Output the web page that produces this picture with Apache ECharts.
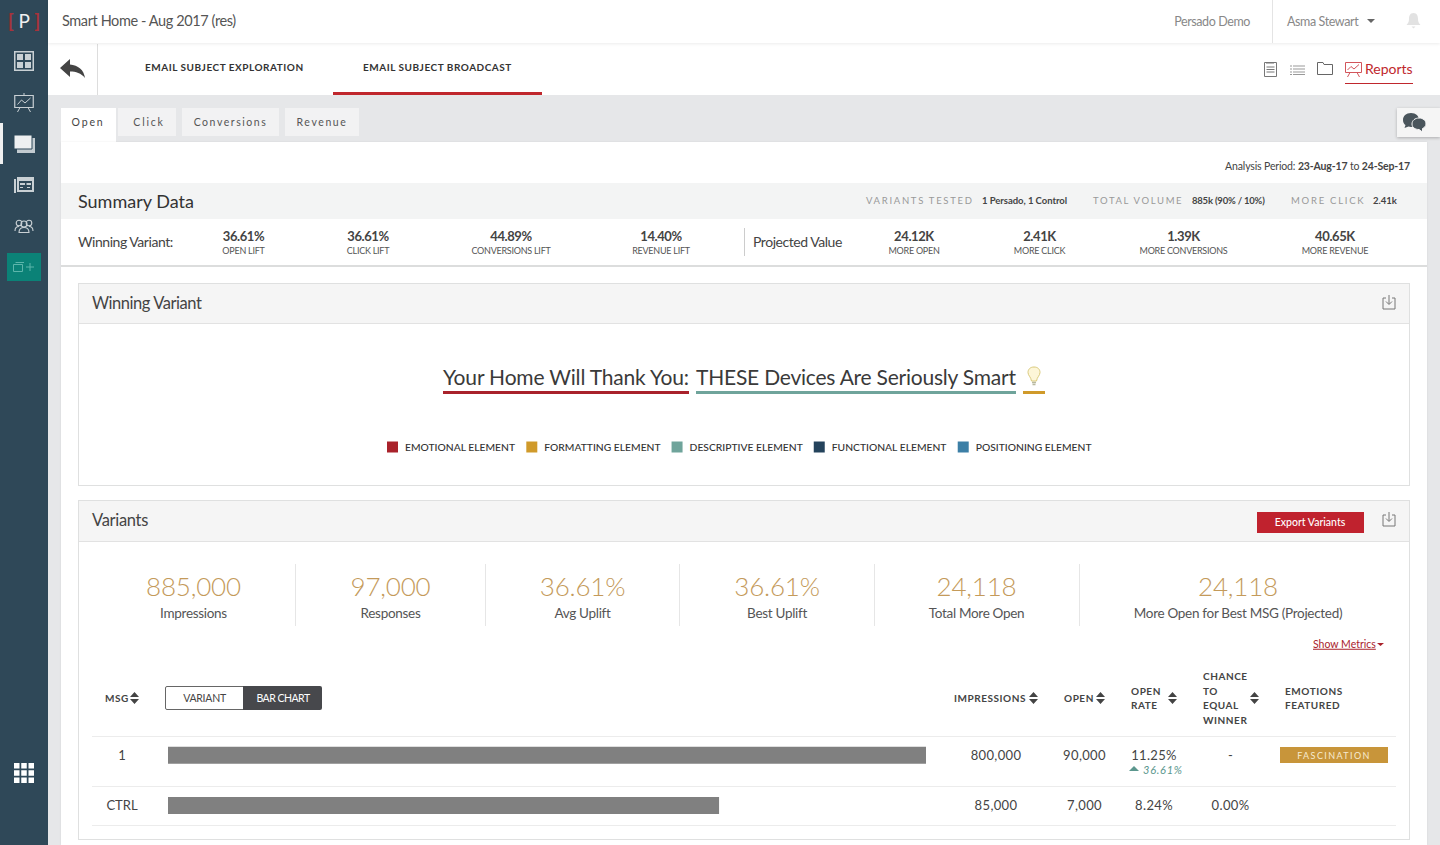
<!DOCTYPE html>
<html>
<head>
<meta charset="UTF-8">
<title>Smart Home - Aug 2017 (res)</title>
<script src="https://cdn.jsdelivr.net/npm/echarts@6/dist/echarts.min.js"></script>
<style>
html, body { margin: 0; padding: 0; width: 1440px; height: 845px; overflow: hidden; background: #e6e7e9; }
body { font-family: Lato, "Open Sans", sans-serif; color: #444; position: relative; }
#page div, #page svg { position: absolute; }
#page .t { white-space: nowrap; line-height: 1; }
#main { position: absolute; left: 0; top: 0; width: 1440px; height: 845px; pointer-events: none; }
</style>
</head>
<body>
<div id="page"></div>
<div id="main"></div>
<script>
// table rows
var categories = ['1', 'CTRL'];
var barValues = [100, 72.7]; // bar length, % of the best variant
var impressions = ['800,000', '85,000'];
var opens = ['90,000', '7,000'];
var openRates = ['11.25%', '8.24%'];
var chances = ['-', '0.00%'];

// legend under the headline
var elementNames = ['EMOTIONAL ELEMENT', 'FORMATTING ELEMENT', 'DESCRIPTIVE ELEMENT', 'FUNCTIONAL ELEMENT', 'POSITIONING ELEMENT'];
var elementColors = ['#a9222b', '#d09a2a', '#6fa49b', '#24435c', '#3c7fa6'];

// summary strip
var liftValues = ['36.61%', '36.61%', '44.89%', '14.40%'];
var liftLabels = ['OPEN LIFT', 'CLICK LIFT', 'CONVERSIONS LIFT', 'REVENUE LIFT'];
var moreValues = ['24.12K', '2.41K', '1.39K', '40.65K'];
var moreLabels = ['MORE OPEN', 'MORE CLICK', 'MORE CONVERSIONS', 'MORE REVENUE'];

// big numbers in the variants panel
var kpiValues = ['885,000', '97,000', '36.61%', '36.61%', '24,118', '24,118'];
var kpiLabels = ['Impressions', 'Responses', 'Avg Uplift', 'Best Uplift', 'Total More Open', 'More Open for Best MSG (Projected)'];

var page = document.getElementById('page');

function box(x, y, w, h, color, css) {
    var d = document.createElement('div');
    d.style.cssText = 'left:' + x + 'px;top:' + y + 'px;width:' + w + 'px;height:' + h + 'px;background:' + color + ';' + (css || '');
    page.appendChild(d);
    return d;
}

// y is the vertical middle of the text
function txt(x, y, s, o) {
    o = o || {};
    var d = document.createElement('div');
    d.className = 't';
    var tx = o.align === 'c' ? '-50%' : o.align === 'r' ? '-100%' : '0';
    d.style.cssText = 'left:' + x + 'px;top:' + y + 'px;transform:translate(' + tx + ',-50%);' +
        'font-size:' + (o.size || 13) + 'px;color:' + (o.color || '#444') + ';font-weight:' + (o.weight || 400) + ';' +
        'letter-spacing:' + (o.ls || 0) + 'px;' + (o.css || '');
    d.innerHTML = s;
    page.appendChild(d);
    return d;
}

function icon(x, y, w, h, inner) {
    page.insertAdjacentHTML('beforeend', '<svg style="left:' + x + 'px;top:' + y + 'px" width="' + w + '" height="' + h + '" viewBox="0 0 ' + w + ' ' + h + '">' + inner + '</svg>');
}

function sortIcon(x, y) {
    icon(x, y - 6, 9, 12, '<path d="M4.5 0L9 5H0zM4.5 12L0 7H9z" fill="#444"/>');
}

function dlIcon(x, y) {
    icon(x, y, 14, 15, '<path d="M4 3H1V14H13V3H10M7 0V9M4 6.5L7 9.5L10 6.5" fill="none" stroke="#777" stroke-width="1"/>');
}

// sidebar
box(0, 0, 48, 845, '#2f4858');
box(0, 123, 3, 41, '#f0f0f0');
txt(24, 20, '<span style="color:#a8323a;font-weight:700">[</span> P <span style="color:#a8323a;font-weight:700">]</span>', { size: 19, color: '#f0f0f0', align: 'c' });
icon(14, 51, 20, 20, '<path d="M.75.75H19.25V19.25H.75z" fill="none" stroke="#c9d0d4" stroke-width="1.5"/><path d="M3 3H9V9H3zM11 3H17V9H11zM3 11H9V17H3zM11 11H17V17H11z" fill="#c9d0d4"/>');
icon(14, 93, 20, 19, '<path d="M10 0V2.5" stroke="#c9d0d4"/><path d="M.75 2.5H19.25V14.5H.75z" fill="none" stroke="#c9d0d4" stroke-width="1.2"/><path d="M3.5 11.5L7.5 7L11 10L16.5 5M6 14.5L3.5 19M14 14.5L16.5 19" fill="none" stroke="#c9d0d4" stroke-width="1"/>');
icon(13, 134, 22, 19, '<path d="M4 4H22V19H4z" fill="#c3cbd0"/><path d="M1 1H19V15H1z" fill="#eef0f1" stroke="#2f4858" stroke-width="1"/>');
icon(14, 177, 20, 16, '<path d="M0 2H2V16H0zM3 0H20V15H3z" fill="#c9d0d4"/><path d="M5 4H18V13H5z" fill="#2f4858"/><path d="M6 6H11V8H6zM12.5 6H17V8H12.5zM6 10H9V11H6zM13 10H16V11H13z" fill="#c9d0d4"/>');
icon(14, 219, 20, 14, '<g fill="none" stroke="#c9d0d4" stroke-width="1.1"><circle cx="5" cy="4" r="2.8"/><circle cx="15" cy="4" r="2.8"/><circle cx="10" cy="5" r="3"/><path d="M1 12C1 8 3 7.5 5 7.5M19 12C19 8 17 7.5 15 7.5M5 13.5C5 10 7 8.5 10 8.5C13 8.5 15 10 15 13.5z"/></g>');
box(7, 253, 34, 28, '#0b8277');
icon(13, 262, 23, 10, '<path d="M.5 2.5H9.5V9.5H.5zM2.5 .5H11" fill="none" stroke="#5db5ab"/><path d="M17 1V9M13 5H21" stroke="#5db5ab" stroke-width="1"/>');
icon(14, 763, 20, 20, '<path d="M0 0H5.5V5.5H0zM7.25 0H12.75V5.5H7.25zM14.5 0H20V5.5H14.5zM0 7.25H5.5V12.75H0zM7.25 7.25H12.75V12.75H7.25zM14.5 7.25H20V12.75H14.5zM0 14.5H5.5V20H0zM7.25 14.5H12.75V20H7.25zM14.5 14.5H20V20H14.5z" fill="#fff"/>');

// sub nav goes first so the top bar shadow falls on it
box(48, 43, 1392, 52, '#fff');
box(97, 44, 1, 51, '#ddd');
box(48, 0, 1392, 43, '#fff', 'box-shadow:0 1px 3px rgba(0,0,0,.08);');
txt(62, 20.5, 'Smart Home - Aug 2017 (res)', { size: 14.5, color: '#555', ls: -0.4 });
txt(1250, 21.5, 'Persado Demo', { size: 12.5, color: '#888', align: 'r', ls: -0.4 });
box(1272, 0, 1, 43, '#e4e4e4');
txt(1287, 21.5, 'Asma Stewart', { size: 12.5, color: '#888', ls: -0.4 });
icon(1367, 19, 8, 4, '<path d="M0 0H8L4 4z" fill="#666"/>');
icon(1406, 12, 15, 17, '<path d="M7.5 1C4 1 3 4 3 7C3 10 2 11.5 0.5 13H14.5C13 11.5 12 10 12 7C12 4 11 1 7.5 1zM5.5 14.5H9.5L7.5 16.5z" fill="#e2e2e2"/>');

icon(60, 59, 25, 19, '<path d="M10 0L0 9L10 18V12.5C16 12.5 21 14 25 19C24 11 18 6 10 5.5z" fill="#444"/>');
txt(145, 67, 'EMAIL SUBJECT EXPLORATION', { size: 10, weight: 700, color: '#333', ls: 0.52 });
txt(363, 67, 'EMAIL SUBJECT BROADCAST', { size: 10, weight: 700, color: '#333', ls: 0.52 });
box(333, 92, 209, 3, '#c0272d');
icon(1264, 61, 13, 16, '<path d="M.5 1.5H12.5V15.5H.5z" fill="none" stroke="#777"/><path d="M3 1V3M5 1V3M7 1V3M9 1V3M2.5 6H10.5M2.5 8.5H10.5M2.5 11H10.5" stroke="#777" stroke-width="1"/>');
icon(1290, 65, 15, 10, '<path d="M3 1H15M3 4H15M3 7H15M3 9.5H15M0 1H2M0 4H2M0 7H2M0 9.5H2" stroke="#999" stroke-width="1"/>');
icon(1317, 62, 16, 13, '<path d="M.5 12.5V.5H6L7 2.5H15.5V12.5z" fill="none" stroke="#666"/>');
icon(1345, 61, 17, 16, '<path d="M.5 1.5H16.5V11.5H.5z" fill="none" stroke="#d2555b"/><path d="M2.5 9L6 5.5L9 8L14 3.5M5 11.5L2.5 16M12 11.5L14.5 16" fill="none" stroke="#d2555b"/>');
txt(1365, 69, 'Reports', { size: 14, color: '#c0272d' });
box(1345, 83, 68, 1, '#c0272d');

// tabs
box(61, 108, 55, 34, '#fff');
box(118, 108, 58, 28, '#f2f2f3');
box(182, 108, 97, 28, '#f2f2f3');
box(285, 108, 74, 28, '#f2f2f3');
txt(88, 122, 'Open', { size: 10.5, color: '#444', ls: 1.8, align: 'c' });
txt(149, 122, 'Click', { size: 10.5, color: '#555', ls: 1.8, align: 'c' });
txt(230.5, 122, 'Conversions', { size: 10.5, color: '#555', ls: 1.55, align: 'c' });
txt(322, 122, 'Revenue', { size: 10.5, color: '#555', ls: 1.6, align: 'c' });
box(1397, 108, 43, 29, '#f5f5f5', 'box-shadow:0 1px 3px rgba(0,0,0,.25);');
icon(1402, 112, 25, 21, '<path d="M9 1C4 1 1 4 1 8C1 10.5 2 12 3.5 13L2.5 16L6.5 14.5L9 15C14 15 17 12 17 8C17 4 14 1 9 1z" fill="#4a555c"/><path d="M17 6C13 6 10 8.5 10 12C10 15.5 13 17.5 17 17.5L20.5 20V16.5C22.5 15.5 24 14 24 12C24 8.5 21 6 17 6z" fill="#4a555c" stroke="#f5f5f5"/>');

// main white sheet
box(61, 142, 1366, 703, '#fff', 'box-shadow:0 0 2px rgba(0,0,0,.08);');
txt(1410, 166, 'Analysis Period: <b>23-Aug-17</b> to <b>24-Sep-17</b>', { size: 10.5, color: '#444', align: 'r', ls: -0.15 });

// summary data
box(61, 183, 1366, 36, '#f3f4f4');
txt(78, 200.5, 'Summary Data', { size: 18, color: '#333' });
txt(866, 201, 'VARIANTS TESTED', { size: 9.5, color: '#999', ls: 1.7 });
txt(982, 201, '1 Persado, 1 Control', { size: 9.5, weight: 700, color: '#444', ls: -0.05 });
txt(1093, 201, 'TOTAL VOLUME', { size: 9.5, color: '#999', ls: 1.65 });
txt(1192, 201, '885k (90% / 10%)', { size: 9.5, weight: 700, color: '#444', ls: -0.2 });
txt(1291, 201, 'MORE CLICK', { size: 9.5, color: '#999', ls: 1.75 });
txt(1373, 201, '2.41k', { size: 9.5, weight: 700, color: '#444' });

txt(78, 241.5, 'Winning Variant:', { size: 14, color: '#444', ls: -0.45 });
txt(753, 241.5, 'Projected Value', { size: 14, color: '#444', ls: -0.45 });
box(744, 228, 1, 28, '#ccc');
var liftX = [243.5, 368, 511, 661];
var moreX = [914, 1039.5, 1183.5, 1335];
var valStyle = { size: 13, weight: 700, color: '#444', align: 'c', ls: -0.4 };
var subStyle = { size: 9, color: '#555', align: 'c', ls: -0.25 };
liftValues.forEach(function(v, i) {
    txt(liftX[i], 236, v, valStyle);
    txt(liftX[i], 250, liftLabels[i], subStyle);
    txt(moreX[i], 236, moreValues[i], valStyle);
    txt(moreX[i], 250, moreLabels[i], subStyle);
});
box(61, 265, 1366, 2, '#dcdddd');

// winning variant panel
box(78, 283, 1332, 203, '#fff', 'box-sizing:border-box;border:1px solid #dfe0e0;');
box(79, 284, 1330, 39, '#f5f5f5', 'border-bottom:1px solid #e2e2e2;');
txt(92, 303, 'Winning Variant', { size: 16.5, color: '#444', ls: -0.45 });
dlIcon(1382, 295);
txt(443, 375.5, 'Your Home Will Thank You:', { size: 21, color: '#3a3a3a', ls: -0.18 });
txt(696, 375.5, 'THESE Devices Are Seriously Smart', { size: 21, color: '#3a3a3a', ls: -0.22 });
box(443, 391, 246, 3, elementColors[0]);
box(696, 391, 320, 3, elementColors[2]);
box(1023, 391, 22, 3, elementColors[1]);
icon(1026, 366, 16, 22, '<path d="M8 1C4 1 2 3.5 2 6.5C2 9.5 5 11 5.5 15H10.5C11 11 14 9.5 14 6.5C14 3.5 12 1 8 1z" fill="#fdf6d8" stroke="#d9c97a" stroke-width="1"/><path d="M6 16.5H10M6.5 18.5H9.5" stroke="#b9b9a0" stroke-width="1.3"/>');

// variants panel
box(78, 500, 1332, 340, '#fff', 'box-sizing:border-box;border:1px solid #dfe0e0;');
box(79, 501, 1330, 40, '#f5f5f5', 'border-bottom:1px solid #e2e2e2;');
txt(92, 519.5, 'Variants', { size: 16.5, color: '#444', ls: -0.3 });
box(1257, 512, 107, 21, '#c0222e');
txt(1310, 522, 'Export Variants', { size: 10.5, weight: 500, color: '#fff', align: 'c' });
dlIcon(1382, 512);

var kpiX = [193.5, 390.5, 582.5, 777, 976.5, 1238];
kpiValues.forEach(function(v, i) {
    txt(kpiX[i], 586, v, { size: 26, weight: 300, color: '#c49a5a', align: 'c', ls: -0.2 });
    txt(kpiX[i], 613.5, kpiLabels[i], { size: 13.5, color: '#555', align: 'c', ls: -0.3 });
});
[295, 485, 679, 874, 1079].forEach(function(x) {
    box(x, 564, 1, 62, '#e6e6e6');
});
txt(1313, 643.5, '<u>Show Metrics</u>', { size: 10.5, color: '#a9222b' });
icon(1377, 643, 7, 3, '<path d="M0 0H7L3.5 3z" fill="#a9222b"/>');

// table header
var headStyle = { size: 10, weight: 700, color: '#444', ls: 0.55 };
txt(105, 698, 'MSG', headStyle);
sortIcon(130, 698);
box(165, 686, 79, 24, '#fff', 'box-sizing:border-box;border:1px solid #666;border-radius:2px 0 0 2px;');
box(243, 686, 79, 24, '#47484c', 'border-radius:0 2px 2px 0;');
txt(204.5, 698, 'VARIANT', { size: 10.5, color: '#444', align: 'c', ls: -0.25 });
txt(283, 698, 'BAR CHART', { size: 10.5, color: '#fff', align: 'c', ls: -0.5 });
txt(954, 698, 'IMPRESSIONS', headStyle);
sortIcon(1029, 698);
txt(1064, 698, 'OPEN', headStyle);
sortIcon(1096, 698);
txt(1131, 691, 'OPEN', headStyle);
txt(1131, 705, 'RATE', headStyle);
sortIcon(1168, 698);
txt(1203, 676, 'CHANCE', headStyle);
txt(1203, 690.5, 'TO', headStyle);
txt(1203, 705, 'EQUAL', headStyle);
txt(1203, 719.5, 'WINNER', headStyle);
sortIcon(1250, 698);
txt(1285, 691, 'EMOTIONS', headStyle);
txt(1285, 705, 'FEATURED', headStyle);

// table rows, bars themselves are in the chart below
[736, 786, 825].forEach(function(y) {
    box(92, y, 1304, 1, '#ececec');
});
var rowY = [754.5, 805];
categories.forEach(function(c, i) {
    var cell = { size: 13, color: '#444', ls: 0.35, align: 'c' };
    txt(996, rowY[i], impressions[i], cell);
    txt(1084.5, rowY[i], opens[i], cell);
    txt(1154, rowY[i], openRates[i], cell);
    txt(1230.5, rowY[i], chances[i], cell);
});
icon(1129, 766, 10, 5, '<path d="M5 0L10 5H0z" fill="#5c978e"/>');
txt(1143, 768.5, '36.61%', { size: 11, color: '#5c978e', ls: 0.75, css: 'font-style:italic;' });
box(1280, 747, 108, 16, '#c8953a');
txt(1334, 755, 'FASCINATION', { size: 9, color: '#f7ebd0', ls: 1.4, align: 'c' });

var chart = echarts.init(document.getElementById('main'), null, { renderer: 'svg' });
var series = elementNames.map(function(name, i) {
    return { name: name, type: 'line', data: [], itemStyle: { color: elementColors[i] } };
});
series.push({
    type: 'bar',
    data: barValues,
    barWidth: 17,
    silent: true,
    itemStyle: { color: '#808080' }
});
chart.setOption({
    animation: false,
    legend: {
        left: 387,
        top: 441.5,
        padding: 0,
        icon: 'rect',
        itemWidth: 11,
        itemHeight: 11,
        itemGap: 11,
        selectedMode: false,
        data: elementNames,
        textStyle: {
            fontFamily: 'Lato',
            fontSize: 10.3,
            fontWeight: 500,
            color: '#333',
            padding: [0, 0, 0, 2]
        }
    },
    grid: { left: 168, top: 730, width: 758, height: 100.6 },
    xAxis: { type: 'value', min: 0, max: 100, show: false },
    yAxis: {
        type: 'category',
        inverse: true,
        data: categories,
        axisLine: { show: false },
        axisTick: { show: false },
        axisLabel: {
            align: 'center',
            margin: 46,
            fontFamily: 'Lato',
            fontSize: 13,
            color: '#444'
        }
    },
    series: series
});
</script>
</body>
</html>
